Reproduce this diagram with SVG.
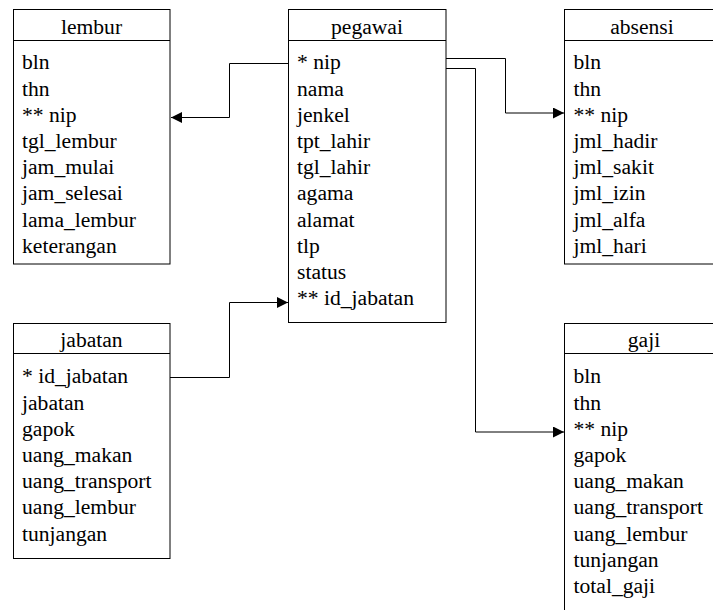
<svg xmlns="http://www.w3.org/2000/svg" width="713" height="610" viewBox="0 0 713 610">
<style>
.box{fill:#fff;stroke:#000;stroke-width:1}
.sep{stroke:#000;stroke-width:1}
.c{fill:none;stroke:#000;stroke-width:1}
</style>
<defs>
<marker id="arr" markerUnits="userSpaceOnUse" markerWidth="12" markerHeight="12" refX="11" refY="5.5" orient="auto">
<path d="M0,0 L11,5.5 L0,11 Z" fill="#000"/>
</marker>
</defs>
<rect width="713" height="610" fill="#fff"/>
<g id="connectors">
<path class="c" d="M288,63.5 H229.5 V117.5 H171" marker-end="url(#arr)"/>
<path class="c" d="M446,58.5 H505.5 V113 H564" marker-end="url(#arr)"/>
<path class="c" d="M446,68.5 H475.5 V432 H564" marker-end="url(#arr)"/>
<path class="c" d="M170,377.5 H229.5 V302.5 H288" marker-end="url(#arr)"/>
</g>
<g id="lembur">
<rect class="box" x="13.5" y="9.5" width="156.5" height="254.5"/>
<line class="sep" x1="13.5" y1="40.5" x2="170" y2="40.5"/>
<text font-family="Liberation Serif, serif" font-size="21.6" text-anchor="middle" x="91.5" y="33.5">lembur</text>
<text font-family="Liberation Serif, serif" font-size="21.6" x="22" y="69.3">bln</text>
<text font-family="Liberation Serif, serif" font-size="21.6" x="22" y="95.5">thn</text>
<text font-family="Liberation Serif, serif" font-size="21.6" x="22" y="121.7">** nip</text>
<text font-family="Liberation Serif, serif" font-size="21.6" x="22" y="147.9">tgl_lembur</text>
<text font-family="Liberation Serif, serif" font-size="21.6" x="22" y="174.1">jam_mulai</text>
<text font-family="Liberation Serif, serif" font-size="21.6" x="22" y="200.3">jam_selesai</text>
<text font-family="Liberation Serif, serif" font-size="21.6" x="22" y="226.5">lama_lembur</text>
<text font-family="Liberation Serif, serif" font-size="21.6" x="22" y="252.7">keterangan</text>
</g>
<g id="pegawai">
<rect class="box" x="288.5" y="9.5" width="157.5" height="313"/>
<line class="sep" x1="288.5" y1="40.5" x2="446" y2="40.5"/>
<text font-family="Liberation Serif, serif" font-size="21.6" text-anchor="middle" x="367" y="33.5">pegawai</text>
<text font-family="Liberation Serif, serif" font-size="21.6" x="297" y="69.3">* nip</text>
<text font-family="Liberation Serif, serif" font-size="21.6" x="297" y="95.5">nama</text>
<text font-family="Liberation Serif, serif" font-size="21.6" x="297" y="121.7">jenkel</text>
<text font-family="Liberation Serif, serif" font-size="21.6" x="297" y="147.9">tpt_lahir</text>
<text font-family="Liberation Serif, serif" font-size="21.6" x="297" y="174.1">tgl_lahir</text>
<text font-family="Liberation Serif, serif" font-size="21.6" x="297" y="200.3">agama</text>
<text font-family="Liberation Serif, serif" font-size="21.6" x="297" y="226.5">alamat</text>
<text font-family="Liberation Serif, serif" font-size="21.6" x="297" y="252.7">tlp</text>
<text font-family="Liberation Serif, serif" font-size="21.6" x="297" y="278.9">status</text>
<text font-family="Liberation Serif, serif" font-size="21.6" x="297" y="305.1">** id_jabatan</text>
</g>
<g id="absensi">
<rect class="box" x="564.5" y="9.5" width="156" height="254.5"/>
<line class="sep" x1="564.5" y1="40.5" x2="720.5" y2="40.5"/>
<text font-family="Liberation Serif, serif" font-size="21.6" text-anchor="middle" x="642" y="33.5">absensi</text>
<text font-family="Liberation Serif, serif" font-size="21.6" x="573.5" y="69.3">bln</text>
<text font-family="Liberation Serif, serif" font-size="21.6" x="573.5" y="95.5">thn</text>
<text font-family="Liberation Serif, serif" font-size="21.6" x="573.5" y="121.7">** nip</text>
<text font-family="Liberation Serif, serif" font-size="21.6" x="573.5" y="147.9">jml_hadir</text>
<text font-family="Liberation Serif, serif" font-size="21.6" x="573.5" y="174.1">jml_sakit</text>
<text font-family="Liberation Serif, serif" font-size="21.6" x="573.5" y="200.3">jml_izin</text>
<text font-family="Liberation Serif, serif" font-size="21.6" x="573.5" y="226.5">jml_alfa</text>
<text font-family="Liberation Serif, serif" font-size="21.6" x="573.5" y="252.7">jml_hari</text>
</g>
<g id="jabatan">
<rect class="box" x="13.5" y="323.5" width="156.5" height="235"/>
<line class="sep" x1="13.5" y1="353.5" x2="170" y2="353.5"/>
<text font-family="Liberation Serif, serif" font-size="21.6" text-anchor="middle" x="91.5" y="347.3">jabatan</text>
<text font-family="Liberation Serif, serif" font-size="21.6" x="22" y="383.3">* id_jabatan</text>
<text font-family="Liberation Serif, serif" font-size="21.6" x="22" y="409.5">jabatan</text>
<text font-family="Liberation Serif, serif" font-size="21.6" x="22" y="435.7">gapok</text>
<text font-family="Liberation Serif, serif" font-size="21.6" x="22" y="461.9">uang_makan</text>
<text font-family="Liberation Serif, serif" font-size="21.6" x="22" y="488.1">uang_transport</text>
<text font-family="Liberation Serif, serif" font-size="21.6" x="22" y="514.3">uang_lembur</text>
<text font-family="Liberation Serif, serif" font-size="21.6" x="22" y="540.5">tunjangan</text>
</g>
<g id="gaji">
<rect class="box" x="564.5" y="323.5" width="160" height="320"/>
<line class="sep" x1="564.5" y1="353.5" x2="724.5" y2="353.5"/>
<text font-family="Liberation Serif, serif" font-size="21.6" text-anchor="middle" x="644" y="347.3">gaji</text>
<text font-family="Liberation Serif, serif" font-size="21.6" x="573.5" y="383.3">bln</text>
<text font-family="Liberation Serif, serif" font-size="21.6" x="573.5" y="409.5">thn</text>
<text font-family="Liberation Serif, serif" font-size="21.6" x="573.5" y="435.7">** nip</text>
<text font-family="Liberation Serif, serif" font-size="21.6" x="573.5" y="461.9">gapok</text>
<text font-family="Liberation Serif, serif" font-size="21.6" x="573.5" y="488.1">uang_makan</text>
<text font-family="Liberation Serif, serif" font-size="21.6" x="573.5" y="514.3">uang_transport</text>
<text font-family="Liberation Serif, serif" font-size="21.6" x="573.5" y="540.5">uang_lembur</text>
<text font-family="Liberation Serif, serif" font-size="21.6" x="573.5" y="566.7">tunjangan</text>
<text font-family="Liberation Serif, serif" font-size="21.6" x="573.5" y="592.9">total_gaji</text>
</g>
</svg>
